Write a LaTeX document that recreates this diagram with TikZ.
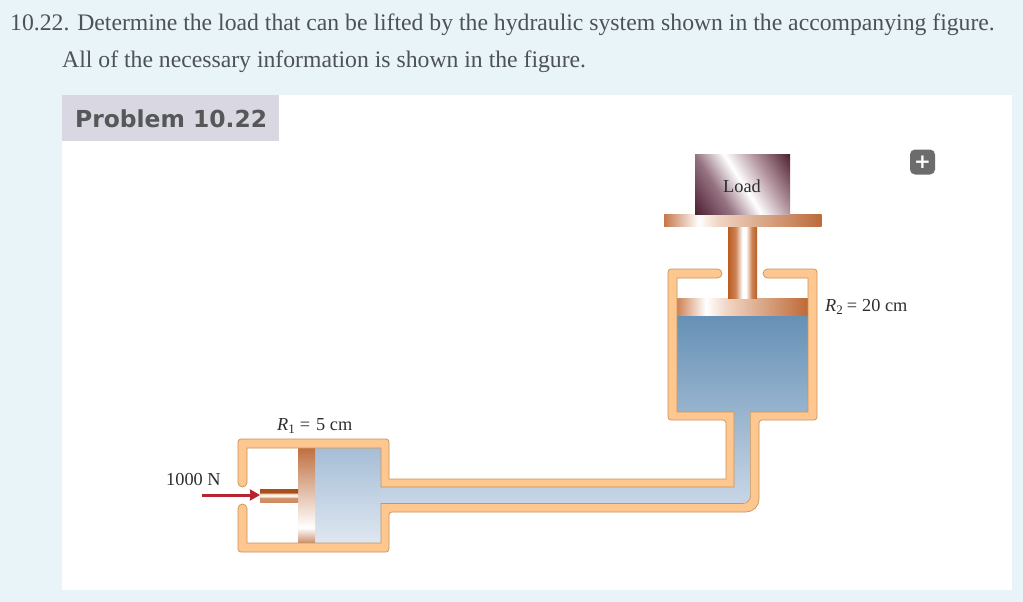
\documentclass[tikz,border=0pt]{standalone}
\usepackage{fontspec}
\setmainfont{Liberation Serif}
\newfontfamily\headfont{DejaVu Sans}
\usetikzlibrary{arrows.meta}
\definecolor{pagebg}{HTML}{E9F4F9}
\definecolor{tabbg}{HTML}{D9D8E2}
\definecolor{tabtext}{HTML}{555759}
\definecolor{bodytext}{HTML}{4D5257}
\definecolor{wallfill}{HTML}{FDC78F}
\definecolor{walledge}{HTML}{C8955A}
\definecolor{labeltext}{HTML}{2E2E2E}
\definecolor{arrowred}{HTML}{B8232F}
\definecolor{btn}{HTML}{6C6C6C}
% bbox maps to 25bp..75bp
\pgfdeclarehorizontalshading{plateshade}{100bp}{color(0bp)=(rgb,255:red,199;green,119;blue,74);color(25bp)=(rgb,255:red,199;green,119;blue,74);color(36bp)=(rgb,255:red,255;green,255;blue,255);color(42bp)=(rgb,255:red,240;green,214;blue,196);color(75bp)=(rgb,255:red,188;green,106;blue,58);color(100bp)=(rgb,255:red,188;green,106;blue,58)}
\pgfdeclarehorizontalshading{pistontwoshade}{100bp}{color(0bp)=(rgb,255:red,205;green,130;blue,85);color(25bp)=(rgb,255:red,205;green,130;blue,85);color(36bp)=(rgb,255:red,255;green,255;blue,255);color(44bp)=(rgb,255:red,240;green,214;blue,196);color(75bp)=(rgb,255:red,190;green,105;blue,55);color(100bp)=(rgb,255:red,190;green,105;blue,55)}
\pgfdeclarehorizontalshading{rodshade}{100bp}{color(0bp)=(rgb,255:red,185;green,93;blue,34);color(25bp)=(rgb,255:red,185;green,93;blue,34);color(38bp)=(rgb,255:red,205;green,130;blue,85);color(50bp)=(rgb,255:red,255;green,255;blue,255);color(56bp)=(rgb,255:red,255;green,255;blue,255);color(66bp)=(rgb,255:red,205;green,130;blue,85);color(75bp)=(rgb,255:red,184;green,95;blue,38);color(100bp)=(rgb,255:red,184;green,95;blue,38)}
\pgfdeclareverticalshading{pistononeshade}{100bp}{color(0bp)=(rgb,255:red,203;green,140;blue,103);color(25bp)=(rgb,255:red,203;green,140;blue,103);color(33bp)=(rgb,255:red,255;green,255;blue,255);color(75bp)=(rgb,255:red,191;green,112;blue,64);color(100bp)=(rgb,255:red,191;green,112;blue,64)}
\pgfdeclareverticalshading{smallrodshade}{100bp}{color(0bp)=(rgb,255:red,208;green,140;blue,96);color(25bp)=(rgb,255:red,208;green,140;blue,96);color(40bp)=(rgb,255:red,210;green,145;blue,105);color(47bp)=(rgb,255:red,255;green,245;blue,235);color(55bp)=(rgb,255:red,250;green,235;blue,220);color(62bp)=(rgb,255:red,168;green,80;blue,28);color(75bp)=(rgb,255:red,168;green,80;blue,28);color(100bp)=(rgb,255:red,168;green,80;blue,28)}
\pgfdeclarehorizontalshading{loadshade}{100bp}{color(0bp)=(rgb,255:red,78;green,32;blue,50);color(25bp)=(rgb,255:red,78;green,32;blue,50);color(39bp)=(rgb,255:red,150;green,115;blue,130);color(50bp)=(rgb,255:red,255;green,255;blue,255);color(61bp)=(rgb,255:red,180;green,150;blue,160);color(75bp)=(rgb,255:red,78;green,32;blue,50);color(100bp)=(rgb,255:red,78;green,32;blue,50)}
\newcommand{\labelsub}[1]{\raisebox{-3pt}{\fontsize{13}{14}\selectfont #1}}
\tikzset{
  wall/.style={fill=wallfill,draw=walledge,line width=0.7pt,line join=round},
  bodyline/.style={anchor=base west,inner sep=0pt,text=bodytext,font=\fontsize{23.7}{26}\selectfont},
  figlabel/.style={inner sep=0pt,text=labeltext,font=\fontsize{18.3}{20}\selectfont},
}
\begin{document}
\begin{tikzpicture}[x=1pt,y=-1pt]
\useasboundingbox (0,0) rectangle (1023,602);
\fill[pagebg] (0,0) rectangle (1023,602);
\fill[white] (62,95) rectangle (1012,590);
\fill[tabbg] (62,95) rectangle (279,141);
\node[bodyline] (lineone) at (10,31) {10.22. Determine the load that can be lifted by the hydraulic system shown in the accompanying figure.};
\node[bodyline] (linetwo) at (62,67) {All of the necessary information is shown in the figure.};
\node[anchor=base west,inner sep=0pt,text=tabtext,font=\headfont\bfseries\fontsize{23.4}{26}\selectfont] (tabtitle) at (75,128) {Problem 10.22};
\node[fill=btn,text=white,rounded corners=5pt,minimum size=25pt,inner sep=0pt,font=\headfont\bfseries\fontsize{20}{22}\selectfont] (plus) at (922.5,162) {+};

% fluid
\shade[top color={rgb,255:red,101;green,144;blue,181},bottom color={rgb,255:red,200;green,214;blue,230}]
  (677,315) -- (808,315) -- (808,412) -- (750.6,412) [rounded corners=8pt] -- (750.6,503) [sharp corners] -- (380,503) -- (380,487) -- (734,487) -- (734,412) -- (677,412) -- cycle;
\shade[top color={rgb,255:red,166;green,189;blue,214},bottom color={rgb,255:red,223;green,231;blue,241}]
  (315,448) rectangle (381,543);

% pistons and rods
\shade[shading=pistontwoshade] (677,298) rectangle (808,315);
\shade[shading=rodshade] (728,226) rectangle (757,298);
\shade[shading=plateshade] (664,214.5) rectangle (821.5,226);
\shade[shading=pistononeshade] (298,448) rectangle (315,543);
\shade[shading=smallrodshade] (260,489) rectangle (298,502);
\begin{scope}
  \clip (695,154) rectangle (790,214);
  \shade[shading=loadshade,shading angle=32] (686.5,128) rectangle (798.5,240);
\end{scope}

% walls
\path[wall,rounded corners=3pt]
  (790,269) -- (817,269) -- (817,420) -- (759,420)
  [rounded corners=13pt] -- (759,512) [rounded corners=3pt] -- (389,512) -- (389,552) -- (238,552)
  [rounded corners=4.5pt] -- (238,504) -- (247,504) [sharp corners] -- (247,543) -- (381,543) -- (381,503.5) -- (742,503.5)
  [rounded corners=8pt] -- (750.6,503.5) [sharp corners] -- (750.6,412) -- (808,412) -- (808,278)
  [rounded corners=4.5pt] -- (763,278) -- (763,269) -- cycle;
\path[wall,rounded corners=3pt]
  (700,269) -- (668,269) -- (668,420) -- (726,420) [sharp corners] -- (726,479) -- (389,479)
  [rounded corners=3pt] -- (389,439) -- (238,439)
  [rounded corners=4.5pt] -- (238,487) -- (247,487) [sharp corners] -- (247,448) -- (381,448) -- (381,487) -- (734,487) -- (734,412) -- (677,412) -- (677,278)
  [rounded corners=4.5pt] -- (722,278) -- (722,269) -- cycle;

% labels
\node[figlabel,anchor=base] (loadlabel) at (742,192.5) {Load};
\node[figlabel,anchor=base west] (rtwo) at (825,311.5) {\textit{R}\labelsub{2}\hspace{4pt}=\hspace{5pt}20 cm};
\node[figlabel,anchor=base west] (rone) at (277,430.5) {\textit{R}\labelsub{1}\hspace{5pt}=\hspace{6pt}5 cm};
\node[figlabel,anchor=base west] (force) at (166,485.5) {1000 N};

% force arrow
\coordinate (forcestart) at (202,495);
\coordinate (forceend) at (260,495);
\draw[arrowred,line width=3pt,-{Stealth[length=10pt,width=11pt,inset=0.5pt]}] (forcestart) -- (forceend);
\end{tikzpicture}
\end{document}
